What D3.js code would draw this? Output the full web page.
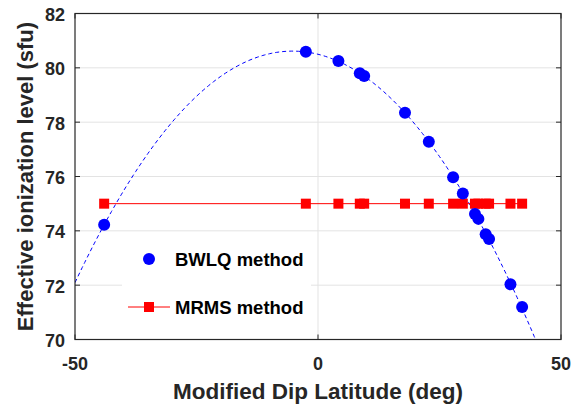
<!DOCTYPE html>
<html>
<head>
<meta charset="utf-8">
<script src="https://cdn.jsdelivr.net/npm/d3@7"></script>
<style>
  body { margin: 0; background: #fff; }
  text { font-family: "Liberation Sans", Arial, sans-serif; font-weight: bold; fill: #262626; }
</style>
</head>
<body>
<div id="chart"></div>
<script>
// dip latitude of each station (deg)
const dipLat = [-44.0, -2.5, 4.2, 8.6, 9.5, 17.9, 22.8, 27.8, 29.8, 32.3, 33.0, 34.5, 35.2, 39.6, 42.0];
// BWLQ effective ionization level (sfu)
const bwlq = [74.22, 80.59, 80.25, 79.80, 79.70, 78.35, 77.28, 75.97, 75.37, 74.62, 74.44, 73.87, 73.70, 72.03, 71.20];
// MRMS level, same for every station
const mrms = [75, 75, 75, 75, 75, 75, 75, 75, 75, 75, 75, 75, 75, 75, 75];

const xTicks = [-50, 0, 50];
const yTicks = [70, 72, 74, 76, 78, 80, 82];

const W = 582, H = 410;
const m = { left: 75, right: 21, top: 13.5, bottom: 70.5 };

const svg = d3.select('#chart').append('svg')
    .attr('width', W)
    .attr('height', H);

const x = d3.scaleLinear().domain([-50, 50]).range([m.left, W - m.right]);
const y = d3.scaleLinear().domain([70, 82]).range([H - m.bottom, m.top]);

svg.append('clipPath').attr('id', 'plot')
    .append('rect')
    .attr('x', x(-50)).attr('y', y(82))
    .attr('width', x(50) - x(-50)).attr('height', y(70) - y(82));

// grid
svg.append('g').selectAll('line')
    .data(yTicks.slice(1, -1))
    .join('line')
    .attr('x1', x(-50)).attr('x2', x(50))
    .attr('y1', d => y(d)).attr('y2', d => y(d))
    .attr('stroke', '#e3e3e3').attr('stroke-width', 1);

svg.append('line')
    .attr('x1', x(0)).attr('x2', x(0))
    .attr('y1', y(70)).attr('y2', y(82))
    .attr('stroke', '#e3e3e3').attr('stroke-width', 1);

// least squares quadratic fit of the BWLQ points
function quadFit(xs, ys) {
    let s = [0, 0, 0, 0, 0], t = [0, 0, 0];
    xs.forEach((xi, i) => {
        for (let k = 0; k < 5; k++) s[k] += Math.pow(xi, k);
        for (let k = 0; k < 3; k++) t[k] += ys[i] * Math.pow(xi, k);
    });
    const A = [[s[0], s[1], s[2], t[0]], [s[1], s[2], s[3], t[1]], [s[2], s[3], s[4], t[2]]];
    for (let i = 0; i < 3; i++) {
        for (let j = i + 1; j < 3; j++) {
            const f = A[j][i] / A[i][i];
            for (let k = i; k < 4; k++) A[j][k] -= f * A[i][k];
        }
    }
    const c = [0, 0, 0];
    for (let i = 2; i >= 0; i--) {
        let v = A[i][3];
        for (let k = i + 1; k < 3; k++) v -= A[i][k] * c[k];
        c[i] = v / A[i][i];
    }
    return xv => c[0] + c[1] * xv + c[2] * xv * xv;
}
const fit = quadFit(dipLat, bwlq);
const fitX = d3.range(-50, 50.01, 0.5);

const plot = svg.append('g').attr('clip-path', 'url(#plot)');

plot.append('path')
    .datum(fitX)
    .attr('d', d3.line().x(d => x(d)).y(d => y(fit(d))))
    .attr('fill', 'none')
    .attr('stroke', '#0000ff')
    .attr('stroke-width', 1)
    .attr('stroke-dasharray', '4,3');

// MRMS line and squares
plot.append('path')
    .datum(dipLat)
    .attr('d', d3.line().x(d => x(d)).y((d, i) => y(mrms[i])))
    .attr('fill', 'none')
    .attr('stroke', '#ff0000')
    .attr('stroke-width', 1);

plot.append('g').selectAll('rect')
    .data(dipLat)
    .join('rect')
    .attr('x', d => x(d) - 5).attr('y', (d, i) => y(mrms[i]) - 5)
    .attr('width', 10).attr('height', 10)
    .attr('fill', '#ff0000');

// BWLQ circles
plot.append('g').selectAll('circle')
    .data(dipLat)
    .join('circle')
    .attr('cx', d => x(d)).attr('cy', (d, i) => y(bwlq[i]))
    .attr('r', 6)
    .attr('fill', '#0000ff');

// legend, white box without border
const lg = svg.append('g');
lg.append('rect')
    .attr('x', 122).attr('y', 237)
    .attr('width', 189).attr('height', 95)
    .attr('fill', '#fff');
lg.append('circle').attr('cx', 149).attr('cy', 259).attr('r', 6).attr('fill', '#0000ff');
lg.append('text').attr('x', 175).attr('y', 265.5).attr('font-size', 18.5).style('fill', '#000').text('BWLQ method');
lg.append('line').attr('x1', 128).attr('x2', 170).attr('y1', 307).attr('y2', 307)
    .attr('stroke', '#ff0000').attr('stroke-width', 1);
lg.append('rect').attr('x', 144).attr('y', 302).attr('width', 10).attr('height', 10).attr('fill', '#ff0000');
lg.append('text').attr('x', 175).attr('y', 314).attr('font-size', 18.5).style('fill', '#000').text('MRMS method');

// axes box and ticks
const ax = svg.append('g');
ax.append('rect')
    .attr('x', x(-50)).attr('y', y(82))
    .attr('width', x(50) - x(-50)).attr('height', y(70) - y(82))
    .attr('fill', 'none').attr('stroke', '#262626').attr('stroke-width', 1.2);

ax.append('g').selectAll('line')
    .data(yTicks)
    .join('line')
    .attr('x1', x(50) - 5).attr('x2', x(50))
    .attr('y1', d => y(d)).attr('y2', d => y(d))
    .attr('stroke', '#262626');
ax.append('g').selectAll('line')
    .data(yTicks)
    .join('line')
    .attr('x1', x(-50)).attr('x2', x(-50) + 5)
    .attr('y1', d => y(d)).attr('y2', d => y(d))
    .attr('stroke', '#262626');
ax.append('g').selectAll('line')
    .data(xTicks)
    .join('line')
    .attr('x1', d => x(d)).attr('x2', d => x(d))
    .attr('y1', y(82)).attr('y2', y(82) + 5)
    .attr('stroke', '#262626');
ax.append('g').selectAll('line')
    .data(xTicks)
    .join('line')
    .attr('x1', d => x(d)).attr('x2', d => x(d))
    .attr('y1', y(70)).attr('y2', y(70) - 5)
    .attr('stroke', '#262626');

// tick labels
ax.append('g').selectAll('text')
    .data(yTicks)
    .join('text')
    .attr('x', x(-50) - 10)
    .attr('y', d => y(d) + 7.5)
    .attr('text-anchor', 'end')
    .attr('font-size', 18)
    .text(d => d);

ax.append('g').selectAll('text')
    .data(xTicks)
    .join('text')
    .attr('x', d => x(d))
    .attr('y', y(70) + 30.5)
    .attr('text-anchor', 'middle')
    .attr('font-size', 18)
    .text(d => d);

// axis labels
svg.append('text')
    .attr('x', (x(-50) + x(50)) / 2)
    .attr('y', 399)
    .attr('text-anchor', 'middle')
    .attr('font-size', 22.5)
    .text('Modified Dip Latitude (deg)');

svg.append('text')
    .attr('transform', 'translate(33,' + ((y(70) + y(82)) / 2) + ') rotate(-90)')
    .attr('text-anchor', 'middle')
    .attr('font-size', 22)
    .text('Effective ionization level (sfu)');
</script>
</body>
</html>
